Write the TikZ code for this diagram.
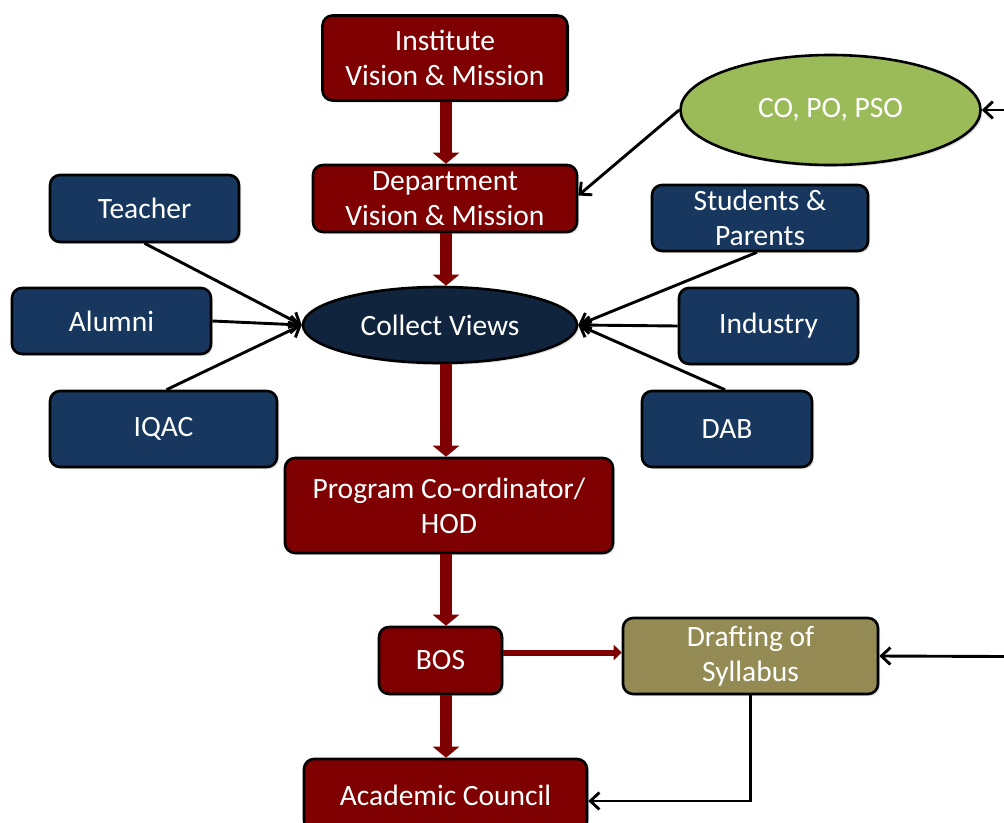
\documentclass[tikz,border=0pt]{standalone}
\usepackage{fontspec}
\setmainfont{Carlito}
\usetikzlibrary{arrows.meta,shapes.geometric,shadows}

\definecolor{boxred}{HTML}{7F0000}
\definecolor{boxnavy}{HTML}{17375E}
\definecolor{viewnavy}{HTML}{10243E}
\definecolor{outgreen}{HTML}{9BBB59}
\definecolor{draftolive}{HTML}{948A54}

\tikzset{
  base/.style={draw=black, line width=2.6pt, text=white, align=center,
    inner sep=0pt, font=\fontsize{29.5pt}{35pt}\selectfont,
    drop shadow={opacity=0.25, shadow xshift=2pt, shadow yshift=-2pt}},
  redbox/.style={base, rectangle, rounded corners=10pt, fill=boxred},
  navybox/.style={base, rectangle, rounded corners=10pt, fill=boxnavy},
  olivebox/.style={base, rectangle, rounded corners=10pt, fill=draftolive},
  oval/.style={base, ellipse},
  flow/.style={draw=boxred, line width=12pt,
    -{Triangle[width=26pt,length=11pt]}},
  thinflow/.style={draw=boxred, line width=6pt,
    -{Triangle[width=15pt,length=8pt]}},
  feed/.style={draw=black, line width=2.9pt,
    -{Straight Barb[length=9pt,width=17pt,line width=2.9pt]}}
}

\begin{document}
\begin{tikzpicture}[x=1pt,y=-1pt]
\useasboundingbox (0,0) rectangle (1004,822);
\clip (0,0) rectangle (1004,822);
\fill[white] (0,0) rectangle (1004,822);

% main chain
\node[redbox, minimum width=245pt, minimum height=85pt] (inst) at (445,58)
  {Institute\\Vision \& Mission};
\node[redbox, minimum width=264pt, minimum height=67pt] (dept) at (445,198.5)
  {Department\\Vision \& Mission};
\node[oval, fill=viewnavy, minimum width=274pt, minimum height=76pt] (views) at (440,325)
  {Collect Views};
\node[redbox, minimum width=328pt, minimum height=95pt] (prog) at (449,505.5)
  {Program Co-ordinator/\\HOD};
\node[redbox, minimum width=123pt, minimum height=67pt] (bos) at (440.5,660.5)
  {BOS};
\node[redbox, minimum width=283pt, minimum height=72pt] (acad) at (445.5,795)
  {Academic Council};

% stakeholders
\node[navybox, minimum width=189pt, minimum height=67pt] (teacher) at (144.5,208.5) {Teacher};
\node[navybox, minimum width=199pt, minimum height=66pt] (alumni) at (111.5,321) {Alumni};
\node[navybox, minimum width=227pt, minimum height=76pt] (iqac) at (163.5,429) {IQAC};
\node[navybox, minimum width=216pt, minimum height=66pt] (students) at (760,218) {Students \&\\Parents};
\node[navybox, minimum width=179pt, minimum height=76pt] (industry) at (768.5,326) {Industry};
\node[navybox, minimum width=170pt, minimum height=76pt] (dab) at (727,429) {DAB};

% outcomes and syllabus
\node[oval, fill=outgreen, minimum width=300pt, minimum height=110pt] (copo) at (830.5,110)
  {CO, PO, PSO};
\node[olivebox, minimum width=255pt, minimum height=76pt] (draft) at (750.5,656)
  {Drafting of\\Syllabus};

\coordinate (inA) at (1004,110);
\coordinate (inB) at (1004,656.5);

% thick flow arrows
\draw[flow] ([xshift=1pt]inst.south) -- ([xshift=1pt]dept.north);
\draw[flow] ([xshift=1pt]dept.south) -- ([xshift=1pt]dept.south |- views.north);
\draw[flow] ([xshift=6pt]views.south) -- ([xshift=6pt]views.south |- prog.north);
\draw[flow] ([xshift=-3pt]prog.south) -- ([xshift=-3pt]prog.south |- bos.north);
\draw[flow] ([xshift=5.5pt]bos.south) -- ([xshift=5.5pt]bos.south |- acad.north);
\draw[thinflow] ([yshift=8pt]bos.east) -- ([yshift=8pt]bos.east -| draft.west);

% feedback arrows
\draw[feed] (teacher.south) -- (views.west);
\draw[feed] (alumni.east) -- (views.west);
\draw[feed] ([xshift=3pt]iqac.north) -- (views.west);
\draw[feed] ([xshift=-3pt]students.south) -- (views.east);
\draw[feed] (industry.west) -- (views.east);
\draw[feed] ([xshift=-2pt]dab.north) -- (views.east);
\draw[feed] (copo.west) -- ([yshift=3pt]dept.east);
\draw[feed] (inA) -- (copo.east);
\draw[feed] (inB) -- (draft.east);
\draw[feed] (draft.south) |- ([yshift=-6pt]acad.east);
\end{tikzpicture}
\end{document}
